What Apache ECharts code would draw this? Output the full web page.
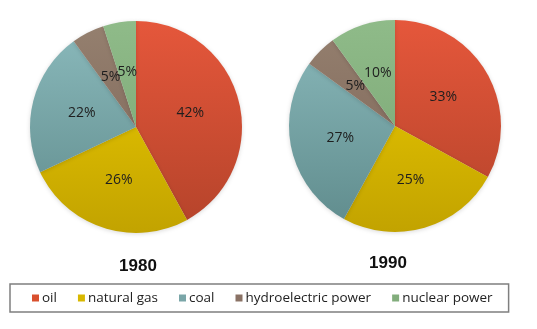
<!DOCTYPE html>
<html><head><meta charset="utf-8">
<script src="https://cdn.jsdelivr.net/npm/echarts@6/dist/echarts.min.js"></script>
<style>html,body{margin:0;padding:0;background:#fff}#c{width:537px;height:329px}</style>
</head><body><div id="c"></div>
<script>
const categories = ['oil', 'natural gas', 'coal', 'hydroelectric power', 'nuclear power'];
const years = ['1980', '1990'];
const values1980 = [42, 26, 22, 5, 5];
const values1990 = [33, 25, 27, 5, 10];

const topColors = ['#e5573b', '#efcd00', '#8bbabc', '#95806f', '#8fbb89'];
const bottomColors = ['#b4432a', '#c2a300', '#5f8b8c', '#7a6255', '#77a270'];
const legendColors = ['#d9502e', '#d8b800', '#7aa6a8', '#8a7265', '#82ad7c'];

const R = 106;
const centers = [[136, 127], [395, 126]];

function mkData(vals, ci) {
  const cy = centers[ci][1];
  return vals.map((v, i) => ({
    name: categories[i], value: v,
    itemStyle: {
      color: {type: 'linear', x: 0, y: cy - R, x2: 0, y2: cy + R, global: true,
        colorStops: [{offset: 0, color: topColors[i]}, {offset: 1, color: bottomColors[i]}]}
    }
  }));
}

const chart = echarts.init(document.getElementById('c'), null, {renderer: 'canvas'});
const labelCfg = {
  show: true, position: 'inside', formatter: '{c}%',
  color: '#1e1e1e', fontSize: 14, fontFamily: 'Open Sans', fontWeight: 'normal',
  textBorderWidth: 0
};
chart.setOption({
  animation: false,
  color: legendColors,
  title: [
    {text: years[0], left: 133, top: 253, textAlign: 'center',
      textStyle: {fontSize: 17, fontWeight: 'bold', color: '#111', fontFamily: 'Liberation Sans'}},
    {text: years[1], left: 383, top: 250, textAlign: 'center',
      textStyle: {fontSize: 17, fontWeight: 'bold', color: '#111', fontFamily: 'Liberation Sans'}}
  ],
  legend: {
    data: categories.map((c, i) => ({name: c, itemStyle: {color: legendColors[i]}})),
    left: 10, top: 284, width: 498,
    icon: 'rect', itemWidth: 7, itemHeight: 7, itemGap: 21,
    borderColor: '#7f7f7f', borderWidth: 1.5,
    padding: [7, 16, 7, 22],
    textStyle: {fontSize: 13.5, color: '#222', fontFamily: 'Open Sans', padding: [0, 0, 0, -2]}
  },
  series: [0, 1].map(ci => ({
    type: 'pie',
    center: centers[ci],
    radius: R,
    startAngle: 90,
    clockwise: true,
    avoidLabelOverlap: false,
    label: labelCfg,
    labelLine: {show: false},
    labelLayout: {hideOverlap: false},
    emphasis: {disabled: true},
    itemStyle: {borderWidth: 0, shadowBlur: 4, shadowColor: 'rgba(0,0,0,0.15)', shadowOffsetY: 1},
    data: mkData(ci === 0 ? values1980 : values1990, ci)
  }))
});
</script></body></html>
